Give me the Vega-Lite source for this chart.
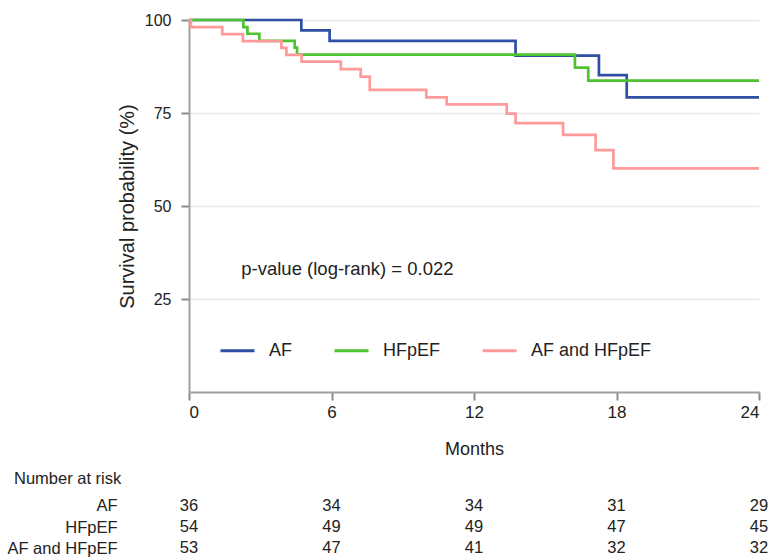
{
  "$schema": "https://vega.github.io/schema/vega-lite/v6.json",
  "padding": {"left": 6, "top": 12, "right": 0, "bottom": 0},
  "background": "white",
  "config": {"view": {"stroke": null}, "font": "Liberation Sans"},
  "datasets": {
    "km": [
      {"group": "AF", "month": 0, "surv": 100},
      {"group": "AF", "month": 4.73, "surv": 97.2},
      {"group": "AF", "month": 5.92, "surv": 94.4},
      {"group": "AF", "month": 13.75, "surv": 90.4},
      {"group": "AF", "month": 17.26, "surv": 85.2},
      {"group": "AF", "month": 18.43, "surv": 79.2},
      {"group": "AF", "month": 24, "surv": 79.2},
      {"group": "HFpEF", "month": 0, "surv": 100},
      {"group": "HFpEF", "month": 2.29, "surv": 98.1},
      {"group": "HFpEF", "month": 2.46, "surv": 96.3},
      {"group": "HFpEF", "month": 2.96, "surv": 94.4},
      {"group": "HFpEF", "month": 4.45, "surv": 92.6},
      {"group": "HFpEF", "month": 4.55, "surv": 90.7},
      {"group": "HFpEF", "month": 16.25, "surv": 87.2},
      {"group": "HFpEF", "month": 16.81, "surv": 83.7},
      {"group": "HFpEF", "month": 24, "surv": 83.7},
      {"group": "AF and HFpEF", "month": 0, "surv": 100},
      {"group": "AF and HFpEF", "month": 0.08, "surv": 98.1},
      {"group": "AF and HFpEF", "month": 1.4, "surv": 96.2},
      {"group": "AF and HFpEF", "month": 2.27, "surv": 94.3},
      {"group": "AF and HFpEF", "month": 3.89, "surv": 92.5},
      {"group": "AF and HFpEF", "month": 4.1, "surv": 90.6},
      {"group": "AF and HFpEF", "month": 4.74, "surv": 88.8},
      {"group": "AF and HFpEF", "month": 6.39, "surv": 86.8},
      {"group": "AF and HFpEF", "month": 7.23, "surv": 84.8},
      {"group": "AF and HFpEF", "month": 7.61, "surv": 81.2},
      {"group": "AF and HFpEF", "month": 9.99, "surv": 79.2},
      {"group": "AF and HFpEF", "month": 10.85, "surv": 77.3},
      {"group": "AF and HFpEF", "month": 13.38, "surv": 74.85},
      {"group": "AF and HFpEF", "month": 13.75, "surv": 72.3},
      {"group": "AF and HFpEF", "month": 15.75, "surv": 69.1},
      {"group": "AF and HFpEF", "month": 17.12, "surv": 65.0},
      {"group": "AF and HFpEF", "month": 17.87, "surv": 60.1},
      {"group": "AF and HFpEF", "month": 24, "surv": 60.1}
    ],
    "risk": [
      {"group": "AF", "month": 0, "n": 36},
      {"group": "AF", "month": 6, "n": 34},
      {"group": "AF", "month": 12, "n": 34},
      {"group": "AF", "month": 18, "n": 31},
      {"group": "AF", "month": 24, "n": 29},
      {"group": "HFpEF", "month": 0, "n": 54},
      {"group": "HFpEF", "month": 6, "n": 49},
      {"group": "HFpEF", "month": 12, "n": 49},
      {"group": "HFpEF", "month": 18, "n": 47},
      {"group": "HFpEF", "month": 24, "n": 45},
      {"group": "AF and HFpEF", "month": 0, "n": 53},
      {"group": "AF and HFpEF", "month": 6, "n": 47},
      {"group": "AF and HFpEF", "month": 12, "n": 41},
      {"group": "AF and HFpEF", "month": 18, "n": 32},
      {"group": "AF and HFpEF", "month": 24, "n": 32}
    ]
  },
  "spacing": 12,
  "vconcat": [
    {
      "width": 570,
      "height": 372,
      "layer": [
        {
          "data": {"name": "km"},
          "mark": {"type": "line", "interpolate": "step-after", "strokeWidth": 2.7},
          "encoding": {
            "x": {
              "field": "month", "type": "quantitative",
              "scale": {"domain": [0, 24], "nice": false},
              "axis": {
                "values": [0, 6, 12, 18, 24], "grid": false,
                "title": "Months", "titleFont": "Liberation Sans", "titleFontSize": 18,
                "titleFontWeight": "normal", "titleColor": "#222", "titlePadding": 20,
                "labelFont": "Liberation Sans", "labelFontSize": 17, "labelColor": "#222",
                "labelPadding": 4, "tickSize": 8, "tickWidth": 2, "tickColor": "#8a8a8a",
                "domainColor": "#a0a0a0", "domainWidth": 2
              }
            },
            "y": {
              "field": "surv", "type": "quantitative",
              "scale": {"domain": [0, 100], "nice": false},
              "axis": {
                "values": [25, 50, 75, 100], "grid": true, "gridColor": "#e8e8e8", "gridWidth": 1.5,
                "title": "Survival probability (%)", "titleFont": "Liberation Sans", "titleFontSize": 20,
                "titleFontWeight": "normal", "titleColor": "#222", "titlePadding": 7,
                "labelFont": "Liberation Sans", "labelFontSize": 16, "labelColor": "#222",
                "labelPadding": 10, "tickSize": 8, "tickWidth": 2, "tickColor": "#8a8a8a",
                "domainColor": "#a0a0a0", "domainWidth": 2
              }
            },
            "color": {
              "field": "group", "type": "nominal",
              "scale": {"domain": ["AF", "HFpEF", "AF and HFpEF"], "range": ["#2F4FA4", "#4EC22F", "#FF9A9A"]},
              "legend": {
                "orient": "none", "legendX": 30, "legendY": 312, "direction": "horizontal", "title": null,
                "symbolType": "stroke", "symbolSize": 1156, "symbolStrokeWidth": 3,
                "labelFont": "Liberation Sans", "labelFontSize": 18, "labelColor": "#222",
                "labelOffset": 13, "columnPadding": 35
              }
            }
          }
        },
        {
          "data": {"values": [{"label": "p-value (log-rank) = 0.022"}]},
          "mark": {"type": "text", "align": "left", "baseline": "middle", "font": "Liberation Sans", "fontSize": 18.5, "color": "#222"},
          "encoding": {
            "x": {"datum": 2.2, "type": "quantitative"},
            "y": {"datum": 33, "type": "quantitative"},
            "text": {"field": "label"}
          }
        }
      ]
    },
    {
      "width": 570,
      "height": 64,
      "data": {"name": "risk"},
      "title": {
        "text": "Number at risk", "anchor": "start", "frame": "bounds", "dx": 7,
        "font": "Liberation Sans", "fontSize": 16.5, "fontWeight": "normal", "color": "#222", "offset": 8
      },
      "mark": {"type": "text", "font": "Liberation Sans", "fontSize": 16.5, "color": "#222"},
      "encoding": {
        "x": {"field": "month", "type": "quantitative", "scale": {"domain": [0, 24], "nice": false}, "axis": null},
        "y": {
          "field": "group", "type": "nominal", "sort": ["AF", "HFpEF", "AF and HFpEF"],
          "axis": {
            "title": null, "domain": false, "ticks": false, "tickSize": 0, "grid": false,
            "labelFont": "Liberation Sans", "labelFontSize": 16.5, "labelColor": "#222",
            "labelPadding": 72
          }
        },
        "text": {"field": "n", "type": "quantitative"}
      }
    }
  ]
}
